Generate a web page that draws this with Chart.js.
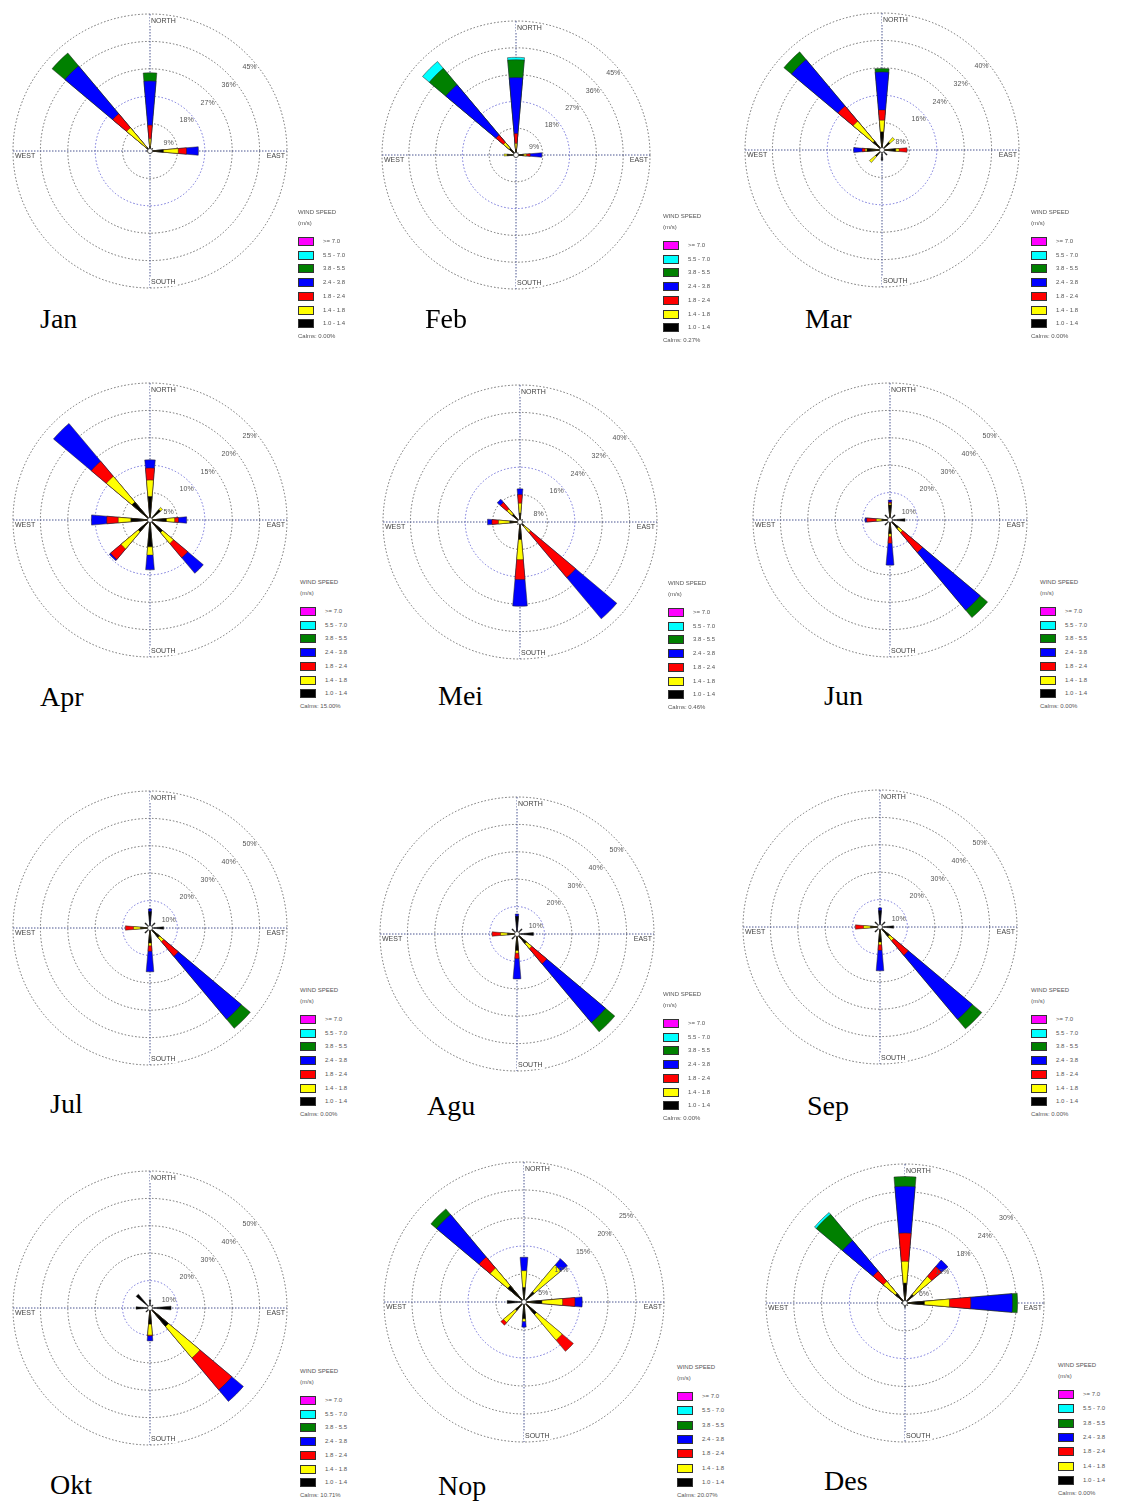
<!DOCTYPE html>
<html>
<head>
<meta charset="utf-8">
<script src="https://cdn.jsdelivr.net/npm/chart.js@4.4.1/dist/chart.umd.min.js"></script>
<style>
  body { margin: 0; background: #fff; width: 1123px; height: 1506px; position: relative; overflow: hidden;
         font-family: 'Liberation Sans', Arial, sans-serif; }
  canvas.rose { position: absolute; }
  .month { position: absolute; font-family: 'Liberation Serif', 'Times New Roman', serif; font-size: 28px; line-height: 30px; color: #000; }
  .legend { position: absolute; font-size: 6px; color: #555; line-height: 7px; z-index: 2; }
  .legend .t { position: absolute; left: 0; white-space: nowrap; }
  .legend .sw { position: absolute; left: 0; width: 16px; height: 9px; border: 1px solid #333; box-sizing: border-box; }
  .legend .lb { position: absolute; left: 25px; white-space: nowrap; }
</style>
</head>
<body>
<script>
// directions of the petals, clockwise from north
const directions = ['N', 'NE', 'E', 'SE', 'S', 'SW', 'W', 'NW'];
// speed classes, innermost first
const speedClasses = ['1.0 - 1.4', '1.4 - 1.8', '1.8 - 2.4', '2.4 - 3.8', '3.8 - 5.5', '5.5 - 7.0', '>= 7.0'];
const speedColors = ['#000000', '#ffff00', '#ff0000', '#0000ff', '#008000', '#00ffff', '#ff00ff'];
const months = ['Jan', 'Feb', 'Mar', 'Apr', 'Mei', 'Jun', 'Jul', 'Agu', 'Sep', 'Okt', 'Nop', 'Des'];
const ringSteps = [9, 9, 8, 5, 8, 10, 10, 10, 10, 10, 5, 6];
const calms = ['0.00%', '0.27%', '0.00%', '15.00%', '0.46%', '0.00%', '0.00%', '0.00%', '0.00%', '10.71%', '20.07%', '0.00%'];

// frequency (%) per direction (N..NW), per speed class (black, yellow, red, blue, green, cyan, magenta)
const jan = [[1.5, 2.5, 4.5, 14.5, 2.7], [1.2], [4.4, 4.9, 2.7, 3.9], [0.8], [0.8], [0.5], [1.2], [1.5, 8.5, 6, 20.5, 5.5]];
const feb = [[2, 1.9, 3.3, 18.8, 6, 0.8], [1], [2.5, 1, 1.3, 3.9], [0.6], [0.8], [0.5], [3, 1], [3, 2.5, 3.3, 22, 7.2, 3]];
const mar = [[5.3, 3.4, 3, 11.1, 1], [3, 1.8], [4, 1, 2.3], [2], [3], [2.5, 2.3], [4.4, 0.5, 0.9, 2.5], [3.4, 7.6, 5.8, 17.7, 2.9]];
const apr = [[4.3, 3, 2.2, 1.5], [2.5, 0.5], [3, 1.5, 0.7, 1.5], [3, 2.6, 3.4, 3.7], [4.9, 1.5, 0, 2.7], [2.8, 4.1, 2.5, 0.3], [3.5, 2.3, 2.1, 2.8], [4.3, 6.1, 3.6, 9]];
const mei = [[2.6, 2.9, 2.5, 1.7], [1], [1], [1.5, 2.5, 17.2, 15.7], [5.1, 5.9, 5.8, 7.8], [1], [3, 3.3, 1.9, 1.3], [3, 2, 2.5, 1.2]];
const jun = [[5.5, 0.5, 0.5, 0.8], [2.5], [5.5], [4, 2, 9.5, 27.5, 3.5], [5, 1, 2.5, 8], [2.5], [3, 2, 3.5, 0.6], [2.5]];
const jul = [[6, 0, 0, 1], [2.5], [5], [4.5, 2, 7, 30, 4.3], [5.5, 1, 2, 7.5], [2.5], [3.5, 2.5, 3], [2.5]];
const agu = [[6.5, 0, 0, 0.8], [2.5], [6], [4.5, 2.5, 7.2, 28, 4.4], [6, 1, 2, 7.4], [2.5], [3.5, 2.5, 3.1], [2.5]];
const sep = [[6, 0, 0, 1], [2.5], [5], [4.5, 2, 7, 30.5, 4.5], [5.5, 1, 2, 7.5], [2.5], [3.5, 2.5, 3], [2.5]];
const okt = [[3], [1.5], [7.7], [8.8, 15, 15.2, 5.5], [5.9, 4, 0.3, 1.8], [2], [5.1], [6.6]];
const nop = [[2.6, 3, 0, 2.4], [2.4, 6.2, 0, 1.5], [3.2, 3.7, 2.2, 1.3], [2.9, 6, 2.6], [3, 0.5, 0, 1], [2, 2.8, 0.6], [3], [3.8, 4.1, 2.6, 9.9, 1.3]];
const des = [[4.3, 4.7, 6.1, 10.1, 2.1], [2.4, 5.1, 2.8, 1.8], [4.2, 5.4, 4.6, 9, 1.1], [0.8], [1], [0.5], [0.8], [2.7, 3.4, 2.9, 8.6, 7.4, 0.5]];
const monthData = [jan, feb, mar, apr, mei, jun, jul, agu, sep, okt, nop, des];

// page layout of each panel: rose centre + radius, legend, month label
const layout = [
  { cx: 150, cy: 151, r: 137, lx: 298, ly: 209, lstep: 13.7, mx: 40, my: 320 },
  { cx: 516, cy: 155, r: 134, lx: 663, ly: 213, lstep: 13.7, mx: 425, my: 320 },
  { cx: 882, cy: 150, r: 137, lx: 1031, ly: 209, lstep: 13.7, mx: 805, my: 320 },
  { cx: 150, cy: 520, r: 137, lx: 300, ly: 579, lstep: 13.7, mx: 40, my: 698 },
  { cx: 520, cy: 522, r: 137, lx: 668, ly: 580, lstep: 13.7, mx: 438, my: 697 },
  { cx: 890, cy: 520, r: 137, lx: 1040, ly: 579, lstep: 13.7, mx: 824, my: 697 },
  { cx: 150, cy: 928, r: 137, lx: 300, ly: 987, lstep: 13.7, mx: 50, my: 1105 },
  { cx: 517, cy: 934, r: 137, lx: 663, ly: 991, lstep: 13.7, mx: 427, my: 1107 },
  { cx: 880, cy: 927, r: 137, lx: 1031, ly: 987, lstep: 13.7, mx: 807, my: 1107 },
  { cx: 150, cy: 1308, r: 137, lx: 300, ly: 1368, lstep: 13.7, mx: 50, my: 1486 },
  { cx: 524, cy: 1302, r: 140, lx: 677, ly: 1364, lstep: 14.3, mx: 438, my: 1487 },
  { cx: 905, cy: 1303, r: 139, lx: 1058, ly: 1362, lstep: 14.3, mx: 824, my: 1482 }
];

const PETAL = 10;                       // petal width, degrees
const GAP = 360 / directions.length - PETAL;
const CANVAS = 300;

const roseDecor = {
  id: 'roseDecor',
  beforeDatasetsDraw(chart) {
    const s = chart.scales.r, ctx = chart.ctx;
    const R = s.drawingArea, cx = s.xCenter, cy = s.yCenter;
    ctx.save();
    ctx.strokeStyle = '#4a5590';
    ctx.lineWidth = 1;
    ctx.setLineDash([1.5, 1.5]);
    ctx.beginPath();
    ctx.moveTo(cx, cy - R); ctx.lineTo(cx, cy + R);
    ctx.moveTo(cx - R, cy); ctx.lineTo(cx + R, cy);
    ctx.stroke();
    ctx.restore();
  },
  afterDatasetsDraw(chart, args, opts) {
    const s = chart.scales.r, ctx = chart.ctx;
    const R = s.drawingArea, cx = s.xCenter, cy = s.yCenter;
    ctx.save();
    // centre circle
    ctx.fillStyle = '#fff';
    ctx.strokeStyle = '#333';
    ctx.lineWidth = 0.8;
    ctx.beginPath(); ctx.arc(cx, cy, 2.5, 0, Math.PI * 2); ctx.fill(); ctx.stroke();

    // ring labels along the NE diagonal
    ctx.font = '7px "Liberation Sans", Arial, sans-serif';
    ctx.fillStyle = '#555';
    ctx.textAlign = 'center';
    ctx.textBaseline = 'middle';
    for (let k = 1; k <= 5; k++) {
      const v = k * opts.step;
      const d = s.getDistanceFromCenterForValue(v) - 7;
      const a = (k === 1 ? 24 : 40) * Math.PI / 180;
      ctx.fillText(v + '%', cx + d * Math.cos(a), cy - d * Math.sin(a));
    }

    // compass labels
    const put = (txt, x, y, align) => {
      ctx.textAlign = align;
      const w = ctx.measureText(txt).width;
      const x0 = align === 'left' ? x : x - w;
      ctx.fillStyle = '#fff';
      ctx.fillRect(x0 - 1, y - 4, w + 2, 8);
      ctx.fillStyle = '#444';
      ctx.fillText(txt, x, y);
    };
    put('NORTH', cx + 1, cy - R + 7, 'left');
    put('SOUTH', cx + 1, cy + R - 6, 'left');
    put('WEST', cx - R + 2, cy + 5, 'left');
    put('EAST', cx + R - 2, cy + 5, 'right');
    ctx.restore();
  }
};

months.forEach((name, m) => {
  const L = layout[m];
  const rows = monthData[m];
  const step = ringSteps[m];

  // 16 arcs: a petal for each direction followed by an empty gap
  const labels = [];
  directions.forEach(d => { labels.push(d); labels.push(''); });

  // one dataset per speed class, holding the cumulative frequency so the classes stack outwards
  const datasets = speedClasses.map((cls, k) => {
    const data = new Array(labels.length).fill(0);
    rows.forEach((vals, d) => {
      const own = vals[k] || 0;
      if (own > 0) {
        let cum = 0;
        for (let j = 0; j <= k; j++) cum += vals[j] || 0;
        data[d * 2] = cum;
      }
    });
    return {
      label: cls,
      data,
      backgroundColor: speedColors[k],
      borderColor: '#222',
      borderWidth: c => (c.raw > 0 ? 0.5 : 0),
      angle: c => (c.dataIndex % 2 === 0 ? PETAL : GAP)
    };
  });

  const canvas = document.createElement('canvas');
  canvas.className = 'rose';
  canvas.width = CANVAS;
  canvas.height = CANVAS;
  canvas.style.left = (L.cx - CANVAS / 2) + 'px';
  canvas.style.top = (L.cy - CANVAS / 2) + 'px';
  document.body.appendChild(canvas);

  const pad = CANVAS / 2 - L.r;
  const blueRing = (m >= 5 && m <= 9) ? 1 : 2;

  new Chart(canvas.getContext('2d'), {
    type: 'polarArea',
    data: { labels, datasets },
    options: {
      responsive: false,
      animation: false,
      layout: { padding: pad },
      plugins: {
        legend: { display: false },
        tooltip: { enabled: false },
        roseDecor: { step }
      },
      scales: {
        r: {
          min: 0,
          max: step * 5,
          startAngle: -PETAL / 2,
          ticks: { display: false, stepSize: step },
          grid: {
            circular: true,
            lineWidth: 1,
            color: c => (c.index === blueRing ? '#7070d8' : '#6a6a6a')
          },
          border: { dash: [1.5, 2] },
          angleLines: { display: false },
          pointLabels: { display: false }
        }
      }
    },
    plugins: [roseDecor]
  });

  // legend box
  const lg = document.createElement('div');
  lg.className = 'legend';
  lg.style.left = L.lx + 'px';
  lg.style.top = L.ly + 'px';
  let html = '<div class="t" style="top:0">WIND SPEED</div><div class="t" style="top:11px">(m/s)</div>';
  for (let i = 0; i < speedClasses.length; i++) {
    const k = speedClasses.length - 1 - i;
    const y = 28 + i * L.lstep;
    html += '<div class="sw" style="top:' + y.toFixed(1) + 'px;background:' + speedColors[k] + '"></div>';
    html += '<div class="lb" style="top:' + (y + 1).toFixed(1) + 'px">' + speedClasses[k].replace('>', '&gt;') + '</div>';
  }
  html += '<div class="t" style="top:' + (28 + 7 * L.lstep).toFixed(1) + 'px">Calms: ' + calms[m] + '</div>';
  lg.innerHTML = html;
  document.body.appendChild(lg);

  // month caption
  const cap = document.createElement('div');
  cap.className = 'month';
  cap.textContent = name;
  cap.style.left = L.mx + 'px';
  cap.style.top = (L.my - 16) + 'px';
  document.body.appendChild(cap);
});
</script>
</body>
</html>
